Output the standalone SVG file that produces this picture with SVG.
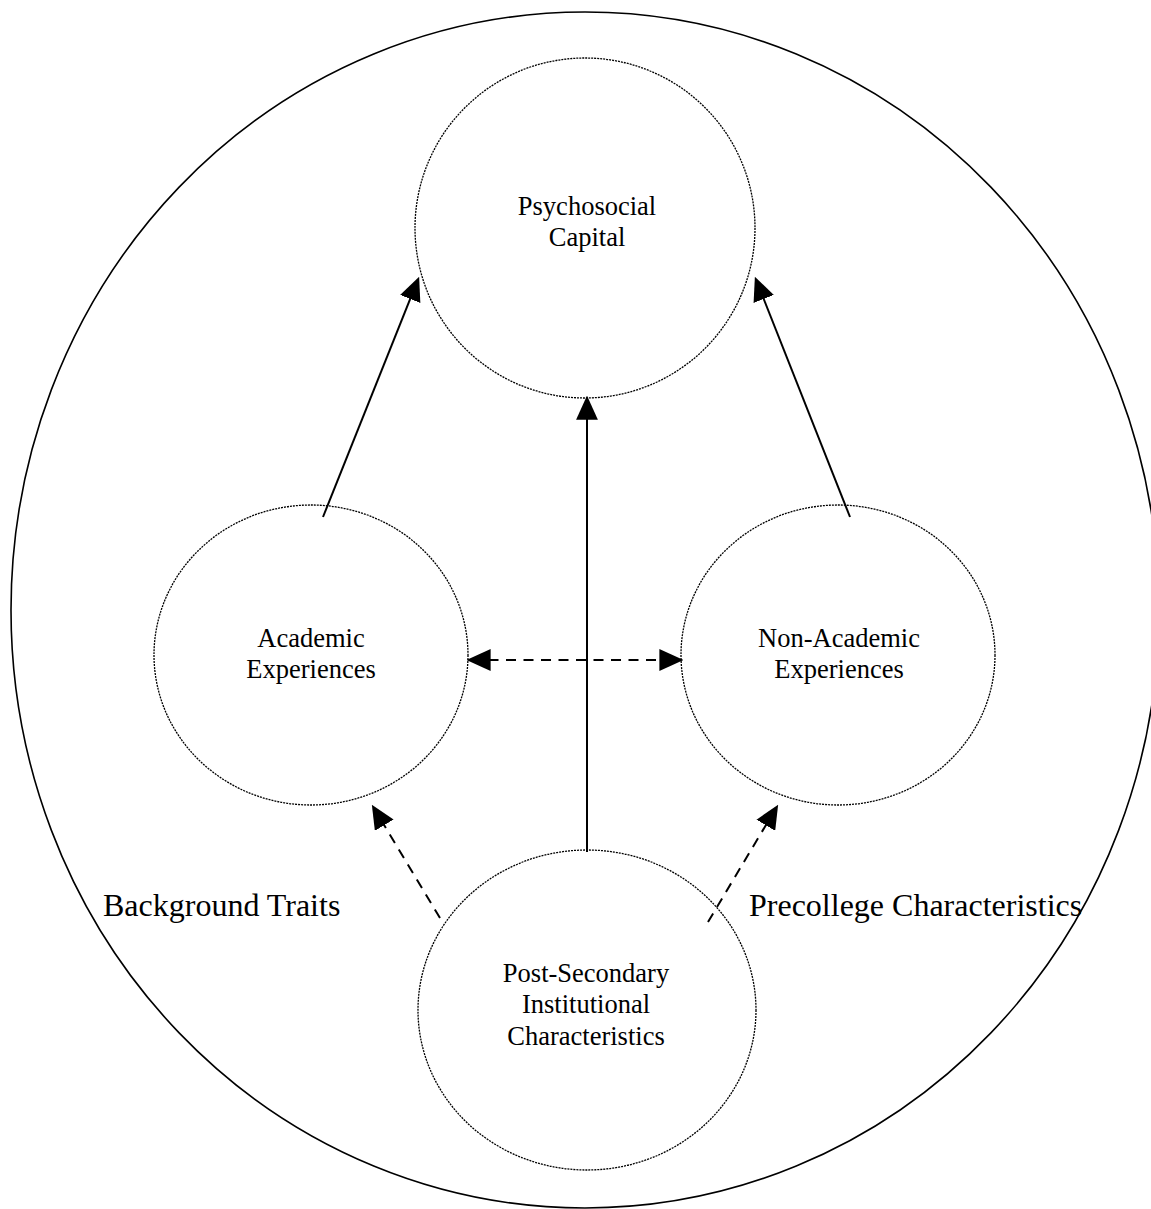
<svg xmlns="http://www.w3.org/2000/svg" width="1151" height="1209" viewBox="0 0 1151 1209">
<style>
.bg{fill:#fff}
.outer{fill:none;stroke:#000;stroke-width:1.6}
.node{fill:none;stroke:#000;stroke-width:1.3;stroke-dasharray:2 1}
.t{font-family:"Liberation Serif","Times New Roman",serif;font-size:26.5px;fill:#000;text-anchor:middle}
.lbl{font-family:"Liberation Serif","Times New Roman",serif;font-size:32px;fill:#000}
.solid{fill:none;stroke:#000;stroke-width:2}
.dash{fill:none;stroke:#000;stroke-width:2;stroke-dasharray:10 7.5}
</style>
<defs>
<marker id="ah" markerUnits="userSpaceOnUse" markerWidth="24" markerHeight="22" viewBox="0 0 22 20" refX="18" refY="10" orient="auto-start-reverse">
<path d="M0,0 L22,10 L0,20 z" fill="#000"/>
</marker>
</defs>
<rect class="bg" x="0" y="0" width="1151" height="1209"/>
<g id="outer">
<ellipse class="outer" cx="585" cy="610" rx="574" ry="598"/>
</g>
<g id="psychosocial-capital">
<ellipse class="node" cx="585" cy="228" rx="170" ry="170"/>
<text class="t" x="587" y="215">Psychosocial</text>
<text class="t" x="587" y="246">Capital</text>
</g>
<g id="academic-experiences">
<ellipse class="node" cx="311" cy="655" rx="157" ry="150"/>
<text class="t" x="311" y="647">Academic</text>
<text class="t" x="311" y="678">Experiences</text>
</g>
<g id="non-academic-experiences">
<ellipse class="node" cx="838" cy="655" rx="157" ry="150"/>
<text class="t" x="839" y="647">Non-Academic</text>
<text class="t" x="839" y="678">Experiences</text>
</g>
<g id="post-secondary">
<ellipse class="node" cx="587" cy="1010" rx="169" ry="160"/>
<text class="t" x="586" y="982">Post-Secondary</text>
<text class="t" x="586" y="1013">Institutional</text>
<text class="t" x="586" y="1045">Characteristics</text>
</g>
<g id="background-traits">
<text class="lbl" x="103" y="916">Background Traits</text>
</g>
<g id="precollege-characteristics">
<text class="lbl" x="749" y="916">Precollege Characteristics</text>
</g>
<g id="connectors">
<line class="solid" x1="323" y1="517" x2="417.5" y2="280.7" marker-end="url(#ah)"/>
<line class="solid" x1="850" y1="517" x2="756.5" y2="280.7" marker-end="url(#ah)"/>
<line class="solid" x1="587" y1="852" x2="587" y2="400" marker-end="url(#ah)"/>
<line class="dash" x1="471" y1="660" x2="679" y2="660" marker-start="url(#ah)" marker-end="url(#ah)"/>
<line class="dash" x1="440" y1="918" x2="374.1" y2="808.4" marker-end="url(#ah)"/>
<line class="dash" x1="708" y1="922" x2="775.9" y2="808.4" marker-end="url(#ah)"/>
</g>
</svg>
